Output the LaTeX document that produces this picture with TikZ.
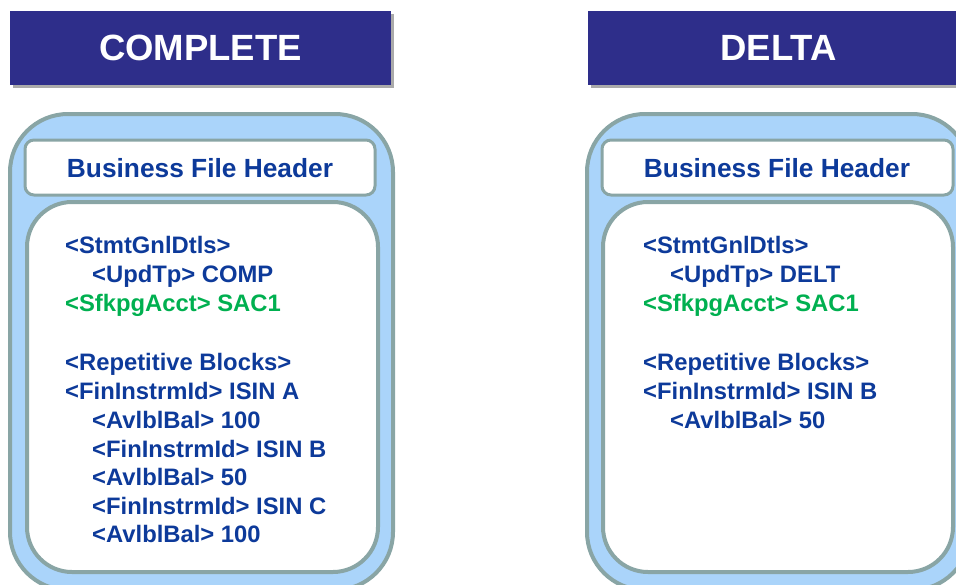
\documentclass[tikz,border=0pt]{standalone}
\usepackage{fontspec}
\setmainfont{Liberation Sans}
\definecolor{navy}{RGB}{46,46,138}
\definecolor{skyfill}{RGB}{170,212,250}
\definecolor{rimgray}{RGB}{137,165,165}
\definecolor{txtblue}{RGB}{13,58,154}
\definecolor{txtgreen}{RGB}{0,176,80}
\definecolor{shadowgray}{RGB}{170,170,170}
\begin{document}
\begin{tikzpicture}[x=1pt,y=-1pt,
  titlebar/.style={fill=navy, draw=none, text=white, font=\bfseries\fontsize{36.5}{43}\selectfont,
                   minimum width=381pt, minimum height=74pt, inner sep=0pt},
  shadowbar/.style={fill=shadowgray, draw=none},
  outerbox/.style={fill=skyfill, draw=rimgray, line width=4pt, rounded corners=58pt},
  hdrbox/.style={fill=white, draw=rimgray, line width=3pt, rounded corners=9pt},
  innerbox/.style={fill=white, draw=rimgray, line width=4pt, rounded corners=45pt},
  hdrtext/.style={text=txtblue, font=\bfseries\fontsize{26.3}{31}\selectfont, inner sep=0pt},
  bodytext/.style={text=txtblue, font=\bfseries\fontsize{23.8}{28}\selectfont, inner sep=0pt, anchor=base west},
  greentext/.style={bodytext, text=txtgreen}
]
\useasboundingbox (0,0) rectangle (956,584);
\clip (0,0) rectangle (956,584);

% ---------- left panel: COMPLETE ----------
\fill[shadowbar] (13,14) rectangle (394,88);
\node[titlebar] (ltitle) at (200.5,48) {COMPLETE};

\draw[outerbox] (10,114) rectangle (393,590);
\draw[hdrbox] (25,140) rectangle (375,195);
\node[hdrtext] (lhdr) at (200,168) {Business File Header};
\draw[innerbox] (27,202) rectangle (378,572);

\node[bodytext]  (l1)  at (65,253.5) {<StmtGnlDtls>};
\node[bodytext]  (l2)  at (92,282.5) {<UpdTp> COMP};
\node[greentext] (l3)  at (65,311) {<SfkpgAcct> SAC1};
\node[bodytext]  (l4)  at (65,370.5) {<Repetitive Blocks>};
\node[bodytext]  (l5)  at (65,399.5) {<FinInstrmId> ISIN A};
\node[bodytext]  (l6)  at (92,428.5) {<AvlblBal> 100};
\node[bodytext]  (l7)  at (92,457) {<FinInstrmId> ISIN B};
\node[bodytext]  (l8)  at (92,485.5) {<AvlblBal> 50};
\node[bodytext]  (l9)  at (92,514) {<FinInstrmId> ISIN C};
\node[bodytext]  (l10) at (92,542.5) {<AvlblBal> 100};

% ---------- right panel: DELTA ----------
\fill[shadowbar] (591,14) rectangle (972,88);
\node[titlebar] (rtitle) at (778.5,48) {DELTA};

\draw[outerbox] (587,114) rectangle (970,590);
\draw[hdrbox] (602,140) rectangle (953,195);
\node[hdrtext] (rhdr) at (777,168) {Business File Header};
\draw[innerbox] (603,202) rectangle (953,572);

\node[bodytext]  (r1) at (643,253.5) {<StmtGnlDtls>};
\node[bodytext]  (r2) at (670,282.5) {<UpdTp> DELT};
\node[greentext] (r3) at (643,311) {<SfkpgAcct> SAC1};
\node[bodytext]  (r4) at (643,370.5) {<Repetitive Blocks>};
\node[bodytext]  (r5) at (643,399.5) {<FinInstrmId> ISIN B};
\node[bodytext]  (r6) at (670,428.5) {<AvlblBal> 50};
\end{tikzpicture}
\end{document}
